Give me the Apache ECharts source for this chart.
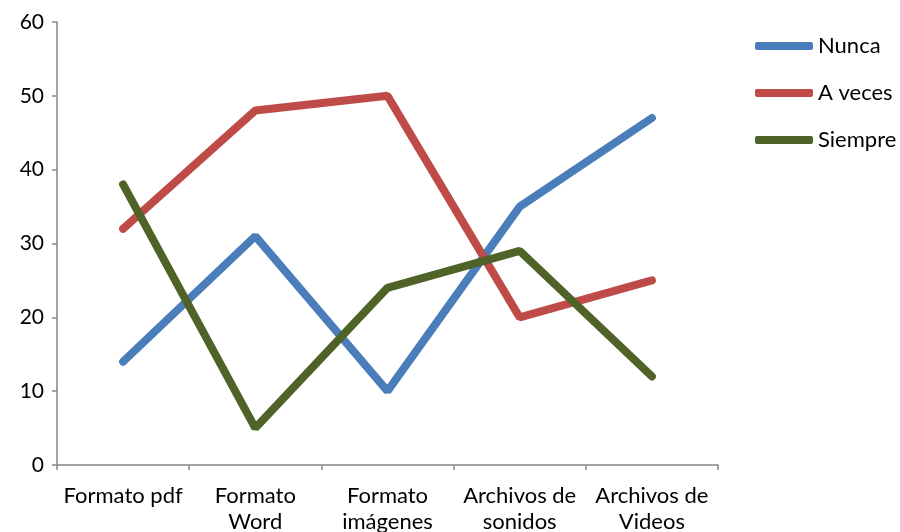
<!DOCTYPE html>
<html><head><meta charset="utf-8">
<script src="https://cdn.jsdelivr.net/npm/echarts@6/dist/echarts.min.js"></script>
<style>html,body{margin:0;padding:0;background:#fff}#c{width:900px;height:532px}</style>
</head><body><div id="c"></div>
<script>
const categories = ["Formato pdf", "Formato\nWord", "Formato\nimágenes", "Archivos de\nsonidos", "Archivos de\nVideos"];
const nunca = [14, 31, 10, 35, 47];
const aveces = [32, 48, 50, 20, 25];
const siempre = [38, 5, 24, 29, 12];
const yTicks = [0, 10, 20, 30, 40, 50, 60];

const FONT = "Lato";
const chart = echarts.init(document.getElementById('c'));
const mk = (name, data, color) => ({
  name, type: 'line', data, symbol: 'none', smooth: false,
  lineStyle: { width: 8, color, cap: 'round' },
  itemStyle: { color }
});
chart.setOption({
  animation: false,
  grid: { left: 57, right: 182, top: 22, bottom: 67, containLabel: false, outerBoundsMode: 'none' },
  legend: {
    orient: 'vertical', left: 750, top: 30, itemGap: 25, padding: 5,
    icon: 'roundRect', itemWidth: 58, itemHeight: 8,
    textStyle: { fontFamily: FONT, fontSize: 22, color: '#000' },
    data: ['Nunca', 'A veces', 'Siempre']
  },
  xAxis: {
    type: 'category', data: categories, boundaryGap: true,
    axisLine: { lineStyle: { color: '#868686', width: 1.5 } },
    axisTick: { show: true, length: 5, lineStyle: { color: '#868686', width: 1.5 } },
    axisLabel: { fontFamily: FONT, fontSize: 22, color: '#000', margin: 18, lineHeight: 26, interval: 0 }
  },
  yAxis: {
    type: 'value', min: yTicks[0], max: yTicks[yTicks.length - 1], interval: 10,
    axisLine: { show: true, lineStyle: { color: '#868686', width: 1.5 } },
    axisTick: { show: true, length: 5, lineStyle: { color: '#868686', width: 1.5 } },
    splitLine: { show: false },
    axisLabel: { fontFamily: FONT, fontSize: 21, color: '#000', margin: 13 }
  },
  series: [
    mk('Nunca', nunca, '#4A7EBB'),
    mk('A veces', aveces, '#BE4B48'),
    mk('Siempre', siempre, '#4F6228')
  ]
});
</script></body></html>
